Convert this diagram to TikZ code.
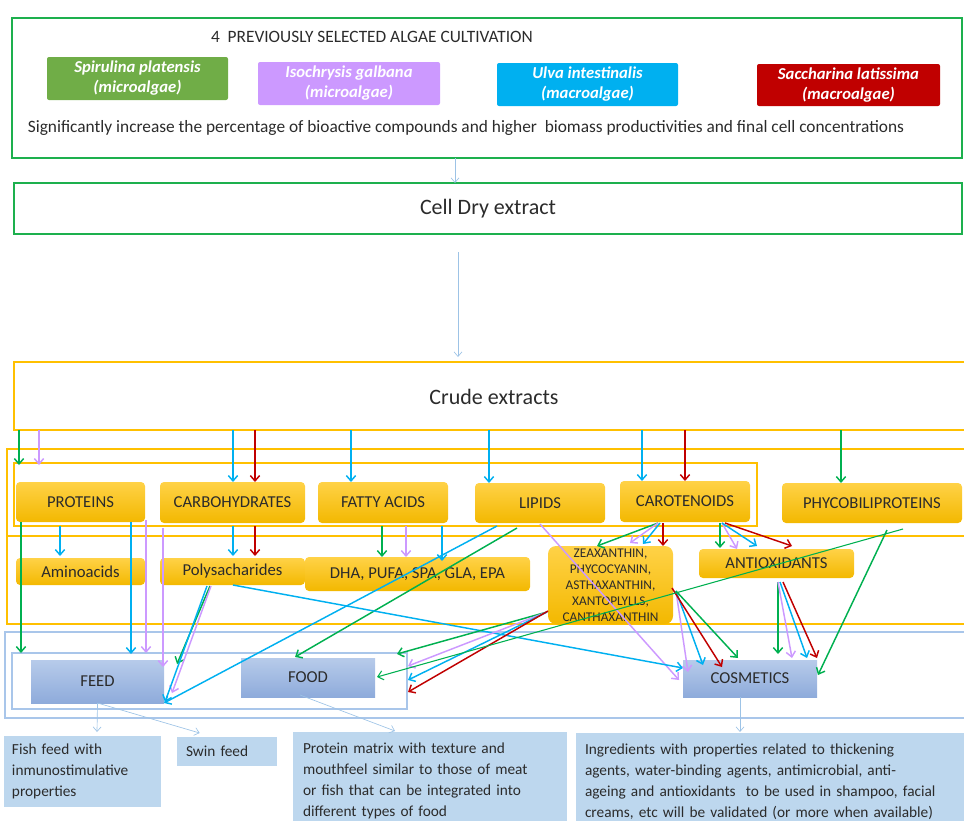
\documentclass[tikz,border=0pt]{standalone}
\usepackage{fontspec}
\setmainfont{Carlito}
\usetikzlibrary{arrows.meta,calc}
\definecolor{gC}{HTML}{00B050}
\definecolor{pC}{HTML}{CC99FF}
\definecolor{cC}{HTML}{00B0F0}
\definecolor{rC}{HTML}{C00000}
\definecolor{LB}{HTML}{9DC3E6}
\definecolor{OR}{HTML}{FFC000}
\definecolor{FR}{HTML}{A9C6EA}
\definecolor{Y1}{HTML}{FFD247}
\definecolor{Y2}{HTML}{F3B800}
\definecolor{B1}{HTML}{B7CBEA}
\definecolor{B2}{HTML}{8EABDB}
\definecolor{NB}{HTML}{BDD7EE}
\definecolor{SG}{HTML}{70AD47}
\definecolor{TX}{HTML}{2B2B2B}
\definecolor{GF}{HTML}{1DB04E}
\newcommand\bx[7]{\node[#6,minimum width={((#4)-(#2))*0.75pt},minimum height={((#5)-(#3))*0.75pt}] (#1) at ({((#2)+(#4))/2},{((#3)+(#5))/2}) {#7};}
\begin{document}
\begin{tikzpicture}[x=0.75pt,y=-0.75pt,
  base/.style={inner sep=0pt,outer sep=0pt,text=TX},
  gframe/.style={base,draw=GF,line width=2.2pt},
  oframe/.style={base,draw=OR,line width=2pt},
  bframe/.style={base,draw=FR,line width=1.8pt},
  alg/.style={base,rounded corners=1.5pt,text=white,font=\fontsize{12.5}{15}\selectfont\bfseries\itshape,align=center},
  cat/.style={base,rounded corners=3pt,top color=Y1,bottom color=Y2,font=\fontsize{12.5}{14}\selectfont},
  blu/.style={base,top color=B1,bottom color=B2,font=\fontsize{12.5}{14}\selectfont},
  note/.style={base,fill=NB,align=left,font=\fontsize{11.5}{15.75}\selectfont},
  ar/.style={line width=1.1pt,-{Straight Barb[length=4pt,width=7pt]}},
  lbar/.style={draw=LB,line width=0.5pt,-{Straight Barb[length=3.5pt,width=6pt]}}]
\useasboundingbox (0,0) rectangle (964,821);
\clip (0,0) rectangle (964,821);
% frames
\bx{top}{12}{18}{962}{158}{gframe}{}
\bx{cell}{14}{183}{962}{234}{gframe,font=\fontsize{16.5}{18}\selectfont}{Cell Dry extract}
\bx{crude}{14}{362}{990}{430}{oframe,font=\fontsize{16.5}{18}\selectfont}{}
\node[base,font=\fontsize{16.5}{18}\selectfont] (crudet) at (494,397) {Crude extracts};
\bx{oA}{7}{449}{990}{536}{oframe}{}
\bx{oB}{7}{536}{990}{624}{oframe}{}
\bx{oI}{14}{463}{757}{526}{oframe}{}
\bx{bO}{5}{632}{990}{718}{bframe}{}
\bx{bI}{12}{653}{407}{709}{bframe}{}
% top content
\node[base,font=\fontsize{13}{15}\selectfont] (title) at (372,37) {4\ \ PREVIOUSLY SELECTED ALGAE CULTIVATION};
\bx{a1}{47}{57}{228}{100}{alg,fill=SG}{Spirulina platensis\\(microalgae)}
\bx{a2}{258}{62}{440}{105}{alg,fill=pC}{Isochrysis galbana\\(microalgae)}
\bx{a3}{497}{63}{678}{106}{alg,fill=cC}{Ulva intestinalis\\(macroalgae)}
\bx{a4}{757}{64}{940}{106}{alg,fill=rC}{Saccharina latissima\\(macroalgae)}
\node[base,font=\fontsize{13}{15}\selectfont] (sig) at (466,128) {Significantly increase the percentage of bioactive compounds and higher\ \ biomass productivities and final cell concentrations};
% categories
\bx{prot}{16}{482}{145}{522}{cat}{PROTEINS}
\bx{carb}{160}{482}{305}{523}{cat}{CARBOHYDRATES}
\bx{fatty}{318}{482}{448}{523}{cat}{FATTY ACIDS}
\bx{lip}{475}{483}{605}{523}{cat}{LIPIDS}
\bx{caro}{620}{481}{750}{522}{cat}{CAROTENOIDS}
\bx{phyco}{782}{483}{962}{523}{cat}{PHYCOBILIPROTEINS}
\bx{amino}{16}{558}{145}{585}{cat}{Aminoacids}
\bx{poly}{160}{558}{305}{585}{cat}{Polysacharides}
\bx{dha}{305}{557}{530}{591}{cat}{DHA, PUFA, SPA, GLA, EPA}
\bx{zea}{548}{546}{673}{624}{cat,rounded corners=6pt,align=center,font=\fontsize{10}{12}\selectfont}{ZEAXANTHIN,\\PHYCOCYANIN,\\ASTHAXANTHIN,\\XANTOPLYLLS,\\CANTHAXANTHIN}
\bx{anti}{699}{549}{854}{578}{cat}{ANTIOXIDANTS}
% applications
\bx{feed}{31}{660}{164}{703}{blu}{FEED}
\bx{food}{241}{658}{375}{697}{blu}{FOOD}
\bx{cosm}{683}{660}{817}{697}{blu}{COSMETICS}
\bx{n1}{4}{736}{161}{807}{note,text width=105.75pt,inner xsep=6pt}{Fish feed with\\inmunostimulative\\properties}
\bx{n2}{177}{737}{277}{766}{note,text width=61.5pt,inner xsep=7pt}{Swin feed}
\bx{n3}{293}{732}{567}{830}{note,text width=190.5pt,inner xsep=7.5pt}{Protein matrix with texture and\\mouthfeel similar to those of meat\\or fish that can be integrated into\\different types of food}
\bx{n4}{576}{733}{990}{830}{note,text width=297pt,inner xsep=6.75pt}{Ingredients with properties related to thickening\\agents, water-binding agents, antimicrobial, anti-\\ageing and antioxidants\ \ to be used in shampoo, facial\\creams, etc will be validated (or more when available)}
% flow arrows
\draw[lbar] ($(top.south west)+(443,0)$) -- ($(cell.north west)+(441,0)$);
\draw[lbar] ($(cell.south west)+(444,18)$) -- ($(crude.north west)+(444,-5)$);
% crude -> categories
\draw[ar,gC] ($(crude.south west)+(5,0)$) -- ($(oI.north west)+(5,2)$);
\draw[ar,pC] ($(crude.south west)+(25,0)$) -- ($(oI.north west)+(25,2)$);
\draw[ar,cC] ($(crude.south west)+(219,0)$) -- ($(carb.north west)+(73,0)$);
\draw[ar,rC] ($(crude.south west)+(241,0)$) -- ($(carb.north west)+(95,0)$);
\draw[ar,cC] ($(crude.south west)+(337,0)$) -- ($(fatty.north west)+(33,0)$);
\draw[ar,cC] ($(crude.south west)+(475,0)$) -- ($(lip.north west)+(14,0)$);
\draw[ar,cC] ($(crude.south west)+(628,0)$) -- ($(caro.north west)+(22,0)$);
\draw[ar,rC] ($(crude.south west)+(671,0)$) -- ($(caro.north west)+(65,0)$);
\draw[ar,gC] ($(crude.south west)+(827,0)$) -- ($(phyco.north west)+(59,0)$);
% proteins
\draw[ar,gC] ($(prot.south west)+(5,0)$) -- ($(bI.north west)+(9,0)$);
\draw[ar,cC] ($(prot.south west)+(115,0)$) -- ($(bI.north west)+(119,1)$);
\draw[ar,pC] ($(prot.south west)+(130,-2)$) -- ($(bI.north west)+(134,0)$);
\draw[ar,cC] ($(prot.south west)+(44,4)$) -- ($(amino.north west)+(44,-2)$);
% carbohydrates
\draw[ar,pC] ($(carb.south west)+(3,5)$) -- ($(feed.north east)+(-1,7)$);
\draw[ar,cC] ($(carb.south west)+(73,3)$) -- ($(poly.north west)+(73,-2)$);
\draw[ar,rC] ($(carb.south west)+(95,3)$) -- ($(poly.north west)+(95,-2)$);
% fatty acids
\draw[ar,gC] ($(fatty.south west)+(64,3)$) -- ($(dha.north west)+(77,0)$);
\draw[ar,pC] ($(fatty.south west)+(88,3)$) -- ($(dha.north west)+(101,0)$);
\draw[ar,cC] ($(fatty.south west)+(124,3)$) -- ($(dha.north west)+(137,4)$);
% lipids
\draw[ar,cC] ($(lip.south west)+(22,3)$) -- (feed.south east);
\draw[ar,gC] ($(lip.south west)+(42,5)$) -- ($(food.north west)+(54,-1)$);
\draw[ar,pC] ($(lip.south west)+(65,1)$) -- ($(cosm.north west)+(-4,20)$);
% polysacharides
\draw[ar,gC] ($(poly.south west)+(50,1)$) -- ($(feed.north east)+(13,4)$);
\draw[ar,pC] ($(poly.south west)+(51,1)$) -- ($(feed.north east)+(8,33)$);
\draw[ar,cC] ($(poly.south west)+(47,1)$) -- ($(feed.south east)+(1,-1)$);
\draw[ar,cC] ($(poly.south west)+(73,0)$) -- ($(cosm.north west)+(0,8)$);
% zeaxanthin group
\draw[ar,gC] ($(zea.north west)+(-1,66)$) -- ($(bI.north east)+(-10,1)$);
\draw[ar,pC] ($(zea.north west)+(-1,66)$) -- ($(bI.north east)+(1,13)$);
\draw[ar,cC] ($(zea.north west)+(-1,66)$) -- ($(bI.north east)+(1,27)$);
\draw[ar,rC] ($(zea.north west)+(0,65)$) -- ($(bI.north east)+(1,39)$);
\draw[ar,pC] ($(zea.north east)+(3,45)$) -- ($(cosm.north west)+(5,12)$);
\draw[ar,cC] ($(zea.north east)+(3,45)$) -- ($(cosm.north west)+(20,5)$);
\draw[ar,rC] ($(zea.north east)+(-1,42)$) -- ($(cosm.north west)+(39,7)$);
\draw[ar,gC] ($(zea.north east)+(3,45)$) -- ($(cosm.north west)+(55,-2)$);
% carotenoids
\draw[ar,gC] ($(caro.south west)+(38,1)$) -- ($(zea.north west)+(49,0)$);
\draw[ar,pC] ($(caro.south west)+(38,1)$) -- ($(zea.north west)+(82,-3)$);
\draw[ar,cC] ($(caro.south west)+(40,1)$) -- ($(zea.north west)+(95,-2)$);
\draw[ar,rC] ($(caro.south west)+(43,1)$) -- ($(zea.north west)+(115,0)$);
\draw[ar,gC] ($(caro.south west)+(100,1)$) -- ($(anti.north west)+(21,-1)$);
\draw[ar,pC] ($(caro.south west)+(102,1)$) -- ($(anti.north west)+(38,0)$);
\draw[ar,cC] ($(caro.south west)+(102,1)$) -- ($(anti.north west)+(58,-3)$);
\draw[ar,rC] ($(caro.south west)+(105,1)$) -- ($(anti.north west)+(93,-3)$);
% antioxidants
\draw[ar,gC] ($(anti.south west)+(79,4)$) -- ($(cosm.north west)+(95,-6)$);
\draw[ar,pC] ($(anti.south west)+(79,4)$) -- ($(cosm.north west)+(109,-2)$);
\draw[ar,cC] ($(anti.south west)+(81,4)$) -- ($(cosm.north west)+(124,-2)$);
\draw[ar,rC] ($(anti.south west)+(84,4)$) -- ($(cosm.north east)+(0,-2)$);
% phycobiliproteins
\draw[ar,gC] ($(phyco.south west)+(105,7)$) -- ($(cosm.north east)+(1,15)$);
\draw[ar,gC,line width=0.8pt] ($(phyco.south west)+(121,6)$) -- ($(food.north east)+(2,19)$);
% outputs
\draw[lbar] (feed.south) -- ($(n1.north west)+(93,-4)$);
\draw[lbar] (feed.south) -- ($(n2.north west)+(23,-4)$);
\draw[lbar] ($(food.south west)+(59,-2)$) -- ($(n3.north west)+(102,-1)$);
\draw[lbar] ($(cosm.south west)+(57,0)$) -- ($(n4.north west)+(164,-1)$);
\end{tikzpicture}
\end{document}
